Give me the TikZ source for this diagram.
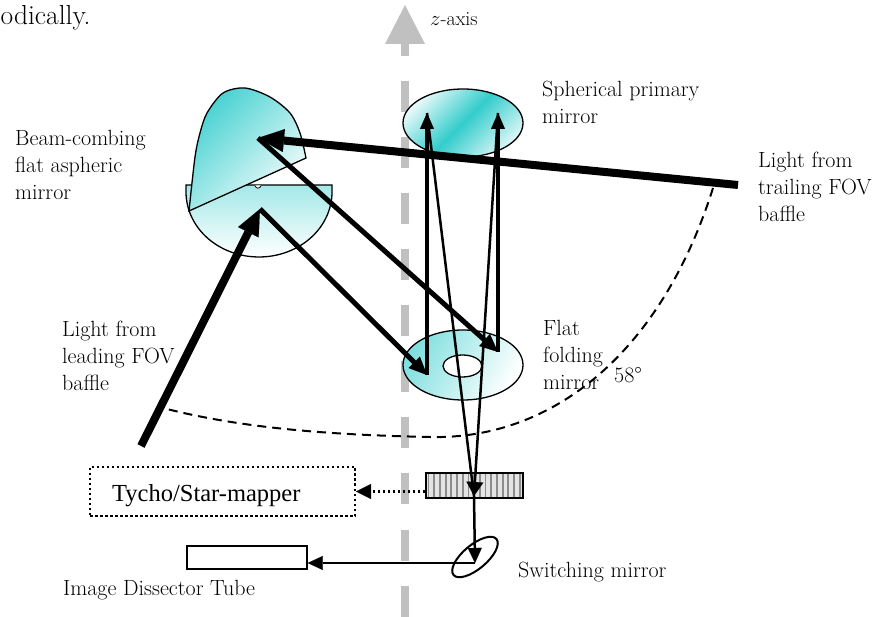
\documentclass[tikz,border=0pt]{standalone}
\usepackage{fontspec}
\newfontfamily\boxfont{Liberation Serif}
\usetikzlibrary{arrows.meta,shapes.geometric}
\definecolor{mirrorteal}{RGB}{51,204,204}
\definecolor{axisgray}{RGB}{192,192,192}
\definecolor{stripegray}{RGB}{140,140,140}
\definecolor{gridbg}{RGB}{228,228,228}

\begin{document}
\begin{tikzpicture}[x=1pt,y=-1pt,
  caption/.style={anchor=base west, align=left, inner sep=0pt,
    font=\fontsize{22}{27}\selectfont},
  mirroredge/.style={draw=black, line width=1.3pt},
  thickbeam/.style={line width=8pt,
    -{Triangle[length=26pt,width=23pt,line width=0.1pt]}},
  medbeam/.style={line width=5pt,
    -{Triangle[length=18pt,width=16pt,line width=0.1pt]}},
  vertbeam/.style={line width=4pt,
    -{Triangle[length=16pt,width=14pt,line width=0.1pt]}},
  thinbeam/.style={line width=2.5pt},
  smallarrow/.style={line width=2.5pt,
    -{Triangle[length=15pt,width=14pt,line width=0.1pt]}},
  dotline/.style={line width=2.5pt, dash pattern=on 2.5pt off 2.5pt},
]
\useasboundingbox (0,0) rectangle (876,617);

% fragment of the preceding sentence
\node[anchor=base west, inner sep=0pt, font=\fontsize{27.5}{32}\selectfont]
  (prevtext) at (0.5,25) {odically.};

% optical z-axis
\draw[axisgray, line width=8pt, dash pattern=on 31pt off 25pt] (405,25.5) -- (405,617);
\fill[axisgray] (385,44) -- (405,5) -- (425,44) -- cycle;
\node[anchor=base west, inner sep=0pt, font=\fontsize{20}{24}\selectfont]
  (zlabel) at (430,26) {$z$-axis};

% 58 degree field angle between the two baffle directions
\draw[line width=2pt, dash pattern=on 9pt off 6pt]
  (713,188) .. controls (662,350) and (555,440) .. (430,437)
  .. controls (330,435) and (240,428) .. (163,408);
\node[anchor=base west, inner sep=0pt, font=\fontsize{22}{27}\selectfont]
  (anglelabel) at (614,383) {58°};

% labels (anchored at the baseline of their last line)
\node[caption] (lblprimary) at (542,124) {Spherical primary\\mirror};
\node[caption] (lblcombiner) at (15,200) {Beam-combing\\flat aspheric\\mirror};
\node[caption] (lbltrail) at (758,222) {Light from\\trailing FOV\\baffle};
\node[caption] (lbllead) at (62,391) {Light from\\leading FOV\\baffle};
\node[caption] (lblfold) at (543,390) {Flat\\folding\\mirror};
\node[caption] (lblswitch) at (518,577) {Switching mirror};
\node[caption] (lblidt) at (63,595) {Image Dissector Tube};

% beam-combining mirror: lower half
\path[mirroredge, top color=mirrorteal!45!white, bottom color=white]
  (186,185) -- (332,185) -- (332,192)
  -- plot[domain=0:180, samples=60] ({259+73*cos(\x)},{192+65*sin(\x)})
  -- cycle;
\draw[line width=0.8pt, fill=white] (255,185.5) .. controls (255.5,189) and (260.5,189) .. (261,185.5);
% beam-combining mirror: upper half
\path[mirroredge, top color=mirrorteal!90!white, bottom color=mirrorteal!4!white, shading angle=45]
  plot[smooth] coordinates {(189,211) (195,157) (200,133) (207,113) (223,93)
    (245,88) (270,97) (290,113) (300,133) (306,158)} -- cycle;

% spherical primary mirror
\node[ellipse, mirroredge, minimum width=120pt, minimum height=68pt, inner sep=0pt,
  top color=mirrorteal!12!white, bottom color=mirrorteal!18!white,
  middle color=mirrorteal, shading angle=45] (primary) at (463,123) {};

% flat folding mirror with central hole
\node[ellipse, mirroredge, minimum width=120pt, minimum height=70pt, inner sep=0pt,
  top color=mirrorteal!62!white, bottom color=white, shading angle=60] (folding) at (463,365) {};
\node[ellipse, mirroredge, fill=white, minimum width=39pt, minimum height=22pt,
  inner sep=0pt] (hole) at (462.5,366) {};

% detector components
\node[draw, line width=1.5pt, fill=gridbg, minimum width=97pt, minimum height=25pt,
  inner sep=0pt,
  path picture={\foreach \i in {0,...,16}
    \draw[stripegray, line width=1.8pt]
      ([xshift=\i*5.7pt+2.5pt]path picture bounding box.north west)
      -- ([xshift=\i*5.7pt+2.5pt]path picture bounding box.south west);}]
  (grid) at (474.5,485.5) {};
\node[draw, dotline, line width=2pt, minimum width=265pt, minimum height=49pt,
  inner sep=0pt] (tycho) at (222.5,491.5) {};
\node[anchor=base west, inner sep=0pt, font=\boxfont\fontsize{24.5}{28}\selectfont]
  (tycholbl) at (112,502) {Tycho/Star-mapper};
\node[draw, line width=1.5pt, fill=white, minimum width=120pt, minimum height=23pt,
  inner sep=0pt] (idt) at (247,557.5) {};
\node[ellipse, draw, line width=2pt, fill=white, minimum width=56pt, minimum height=24pt,
  inner sep=0pt, rotate=40] (switch) at (475,557) {};

% beam path points
\coordinate (trailEnd) at (738,185);
\coordinate (domeHit) at (258,138);
\coordinate (leadEnd) at (141,446);
\coordinate (lowerHit) at (260,209);
\coordinate (foldL) at (427,375);
\coordinate (foldR) at (498,352);
\coordinate (primL) at (427,113);
\coordinate (primR) at (498,113);
\coordinate (gridHit) at (474,496);
\coordinate (swHit) at (475,563);

% light paths
\draw[medbeam] (domeHit) -- (foldR);
\draw[medbeam] (lowerHit) -- (foldL);
\draw[vertbeam] (foldL) -- (primL);
\draw[vertbeam] (foldR) -- (primR);
\draw[thinbeam] (primL) -- (gridHit);
\draw[thinbeam, -{Triangle[length=14pt,width=17pt,line width=0.1pt]}] (primR) -- (gridHit);
\draw[thickbeam] (trailEnd) -- (domeHit);
\draw[thickbeam] (leadEnd) -- (lowerHit);
\draw[smallarrow] (gridHit) -- (swHit);
\draw[smallarrow] (swHit) -- (swHit -| idt.east);
\draw[dotline, -{Triangle[length=15pt,width=15pt,line width=0.1pt]}]
  (grid.west |- tycho.east) -- (tycho.east);
\end{tikzpicture}
\end{document}
